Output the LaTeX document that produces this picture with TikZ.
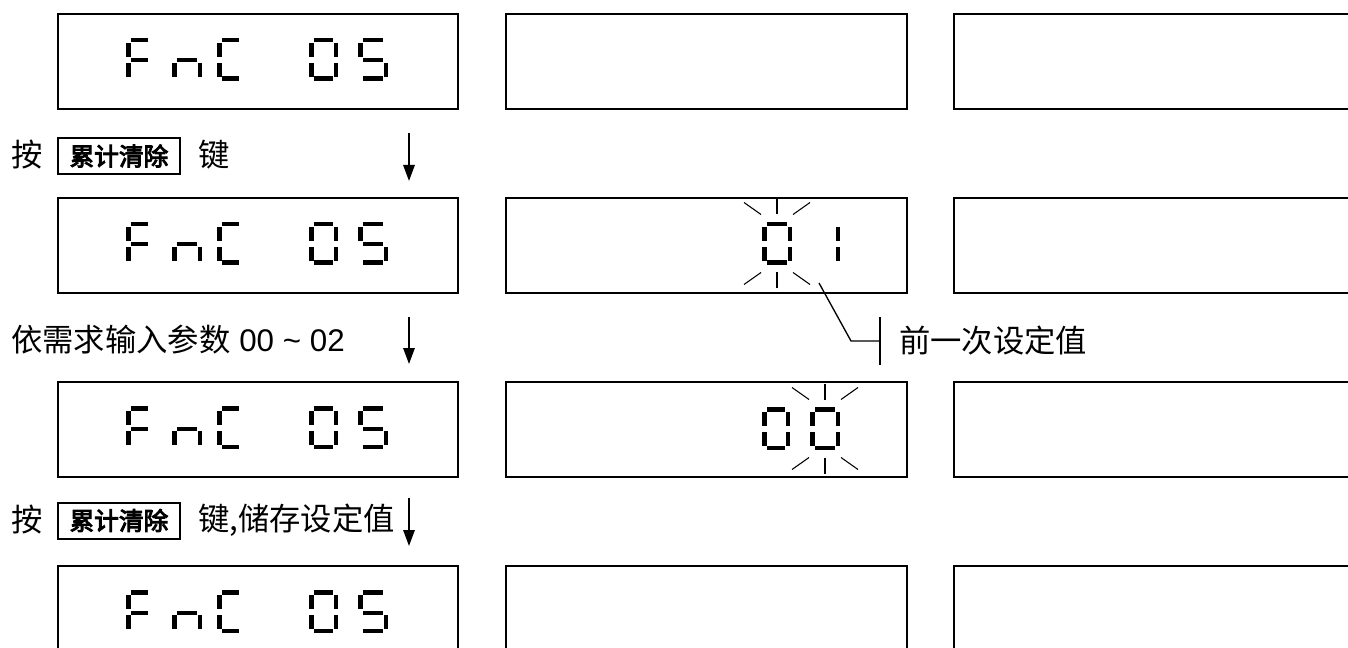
\documentclass[tikz,border=0pt]{standalone}
\usepackage{fontspec}
\setmainfont{Liberation Sans}
\newfontfamily\cjk{Noto Sans CJK SC}
\newfontfamily\cjkkey[FakeBold=4]{Noto Sans CJK SC}
\usetikzlibrary{arrows.meta,positioning}

% segments of a seven-segment digit, \dw = digit width
\newcommand{\sega}{\fill (5,0) rectangle (\dw-5,4.5);}
\newcommand{\segb}{\fill (\dw-4.5,5) rectangle (\dw,19);}
\newcommand{\segc}{\fill (\dw-4.5,25) rectangle (\dw,39);}
\newcommand{\segd}{\fill (5,38.5) rectangle (\dw-5,43);}
\newcommand{\sege}{\fill (0,25) rectangle (4.5,39);}
\newcommand{\segf}{\fill (0,5) rectangle (4.5,19);}
\newcommand{\segg}{\fill (5,20.5) rectangle (\dw-5,24.5);}
\newcommand{\segdigit}[4]{%
  \begin{scope}[shift={(#1,#2)}]
    \def\dw{#3}
    \foreach \s in {#4} {\csname seg\s\endcsname}
  \end{scope}}
% flashing marks round a digit
\newcommand{\blinkmarks}[1]{%
  \begin{scope}[shift={#1}, blink]
    \draw (-33,-41) -- (-16,-29);
    \draw (0,-45) -- (0,-29);
    \draw (16,-29) -- (33,-41);
    \draw (-33,41) -- (-16,29);
    \draw (0,45) -- (0,29);
    \draw (16,29) -- (33,41);
  \end{scope}}

\tikzset{
  dispbox/.style={draw, line width=1.4pt, minimum height=71.25pt, inner sep=0pt, anchor=north west},
  keybox/.style={draw, line width=1.5pt, minimum width=91.5pt, minimum height=27pt, inner sep=0pt,
    font=\cjkkey\fontsize{18.5pt}{20pt}\selectfont},
  lbl/.style={inner sep=0pt, anchor=west, font=\fontsize{23.5pt}{28pt}\selectfont},
  flowarrow/.style={line width=1.5pt, -{Triangle[length=12pt,width=8.5pt]}},
  blink/.style={line width=0.8pt},
  callout/.style={line width=1pt},
}

\begin{document}
\begin{tikzpicture}[x=0.75pt, y=-0.75pt]
\clip (0,0) rectangle (1348,648);

% the four display rows
\foreach \r/\y in {1/13, 2/197, 3/381, 4/565} {
  \node[dispbox, minimum width=300pt] (left\r) at (57,\y) {};
  \node[dispbox, minimum width=300.75pt] (mid\r) at (505,\y) {};
  \node[dispbox, minimum width=320pt] (right\r) at (953,\y) {};
  % FnC 05
  \segdigit{126}{\y+25}{27}{a,f,g,e}
  \segdigit{172}{\y+25}{30}{e,g,c}
  \segdigit{217}{\y+25}{27}{a,f,e,d}
  \segdigit{309}{\y+25}{29}{a,b,c,d,e,f}
  \segdigit{358}{\y+25}{30}{a,f,g,c,d}
}

% row 2: 01, first digit flashing
\segdigit{762}{222}{30}{a,b,c,d,e,f}
\segdigit{810}{222}{30}{b,c}
\blinkmarks{(777,243.5)}

% row 3: 00, second digit flashing
\segdigit{762}{407}{28}{a,b,c,d,e,f}
\segdigit{810}{407}{30}{a,b,c,d,e,f}
\blinkmarks{(825,428.5)}

% step 1
\node[lbl] (press1) at (11,155) {\cjk 按};
\node[keybox] (key1) at (119,156) {累计清除};
\node[lbl] (keyword1) at (198,155) {\cjk 键};
\coordinate (arr1top) at (409,133);
\coordinate (arr1bot) at (409,181);
\draw[flowarrow] (arr1top) -- (arr1bot);

% step 2
\node[lbl] (inputhint) at (11,340) {{\cjk 依需求输入参数} 00 \textasciitilde{} 02};
\coordinate (arr2top) at (409,317);
\coordinate (arr2bot) at (409,364);
\draw[flowarrow] (arr2top) -- (arr2bot);

% callout
\coordinate (calloutTail) at (819,283);
\coordinate (calloutBend) at (851,341);
\coordinate (tickMid) at (880,341);
\coordinate (tickTop) at (880,317);
\coordinate (tickBot) at (880,365);
\draw[callout] (calloutTail) -- (calloutBend) -- (tickMid);
\draw[callout] (tickTop) -- (tickBot);
\node[lbl] (prevval) at (899,341) {\cjk 前一次设定值};

% step 3
\node[lbl] (press2) at (11,520) {\cjk 按};
\node[keybox] (key2) at (119,520.5) {累计清除};
\node[lbl] (savehint) at (198,520) {\cjk 键,储存设定值};
\coordinate (arr3top) at (409,498);
\coordinate (arr3bot) at (409,546);
\draw[flowarrow] (arr3top) -- (arr3bot);
\end{tikzpicture}
\end{document}
